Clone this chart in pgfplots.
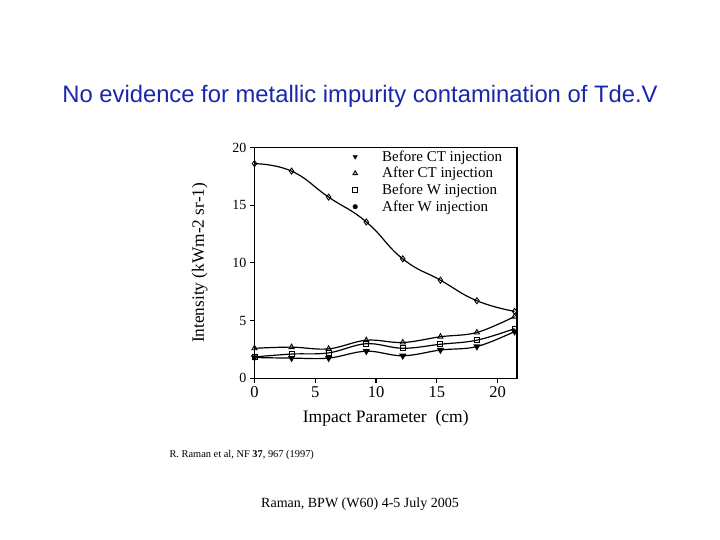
\documentclass[border=0pt]{standalone}
\usepackage{pgfplots}
\pgfplotsset{compat=1.18}
\usepackage{fontspec}
\setmainfont{Liberation Serif}
\newfontfamily\arial{Liberation Sans}
\definecolor{titleblue}{RGB}{25,40,170}
\begin{document}
\begin{tikzpicture}[x=1pt,y=1pt]
\useasboundingbox[fill=white] (0,0) rectangle (720,540);
\node[anchor=base, text=titleblue, font=\arial\fontsize{23.8}{28}\selectfont] at (360,437) {No evidence for metallic impurity contamination of Tde.V};
\begin{axis}[
  at={(254.5pt,161.7pt)}, anchor=south west,
  scale only axis, width=262.5pt, height=230.8pt,
  xmin=0, xmax=21.6, ymin=0, ymax=20,
  xtick={0,5,10,15,20}, ytick={0,5,10,15,20},
  tick align=outside, tick pos=left,
  major tick length=4.5pt,
  axis line style={line width=1.2pt},
  every tick/.style={black, line width=1.2pt},
  xticklabel style={font=\fontsize{16.5}{18}\selectfont},
  yticklabel style={font=\fontsize{14}{16}\selectfont},
  /pgf/number format/assume math mode=true,
  xlabel={Impact Parameter\ \ (cm)},
  ylabel={Intensity (kWm-2 sr-1)},
  xlabel style={font=\fontsize{17.5}{19}\selectfont, yshift=-6pt},
  ylabel style={font=\fontsize{17.3}{19}\selectfont, yshift=18pt},
  legend style={draw=none, fill=none, at={(0.36,1.0)}, anchor=north west,
    font=\fontsize{15}{16}\selectfont, row sep=0.6pt, inner sep=1pt,
    legend cell align=left},
  legend image code/.code={\path[draw=none,fill=none] (0pt,0pt) rectangle (30pt,0.1pt); \draw[#1] plot coordinates {(5pt,0pt)};},
]
\addlegendimage{mark=triangle*, mark options={rotate=180, fill=black}, mark size=2.5pt, only marks}
\addlegendentry{Before CT injection}
\addlegendimage{mark=triangle, mark size=2.5pt, only marks, mark options={line width=1pt}}
\addlegendentry{After CT injection}
\addlegendimage{mark=square, mark size=2.3pt, only marks, mark options={line width=1.1pt}}
\addlegendentry{Before W injection}
\addlegendimage{mark=*, mark size=2.3pt, only marks}
\addlegendentry{After W injection}

% upper curve
\addplot[black, line width=1.2pt, smooth, tension=0.8, mark=diamond, mark size=3pt, mark options={solid, line width=0.9pt}, forget plot]
 coordinates {(0,18.6) (3.05,17.95) (6.1,15.7) (9.2,13.55) (12.2,10.35) (15.3,8.5) (18.3,6.72) (21.4,5.8)};
% after CT (open up triangles)
\addplot[black, line width=1.2pt, smooth, tension=0.6, mark=triangle, mark size=3pt, mark options={solid, line width=0.9pt}, forget plot]
 coordinates {(0,2.6) (3.05,2.7) (6.1,2.55) (9.2,3.3) (12.2,3.1) (15.3,3.6) (18.3,3.97) (21.4,5.35)};
% before W (open squares)
\addplot[black, line width=1.2pt, smooth, tension=0.6, mark=square, mark size=2.5pt, mark options={solid, line width=0.9pt}, forget plot]
 coordinates {(0,1.85) (3.05,2.1) (6.1,2.2) (9.2,3.0) (12.2,2.6) (15.3,2.95) (18.3,3.3) (21.4,4.3)};
% before CT (filled down triangles)
\addplot[black, line width=1.2pt, smooth, tension=0.6, mark=triangle*, mark size=3pt, mark options={solid, rotate=180, fill=black}, forget plot]
 coordinates {(0,1.8) (3.05,1.75) (6.1,1.75) (9.2,2.35) (12.2,1.95) (15.3,2.45) (18.3,2.75) (21.4,4.05)};
\end{axis}
\node[anchor=base west, font=\fontsize{10.4}{12}\selectfont] at (166,82) {R. Raman et al, NF \textbf{37}, 967 (1997)};
\node[anchor=base, font=\fontsize{14}{16}\selectfont] at (360,32) {Raman, BPW (W60) 4-5 July 2005};
\end{tikzpicture}
\end{document}
